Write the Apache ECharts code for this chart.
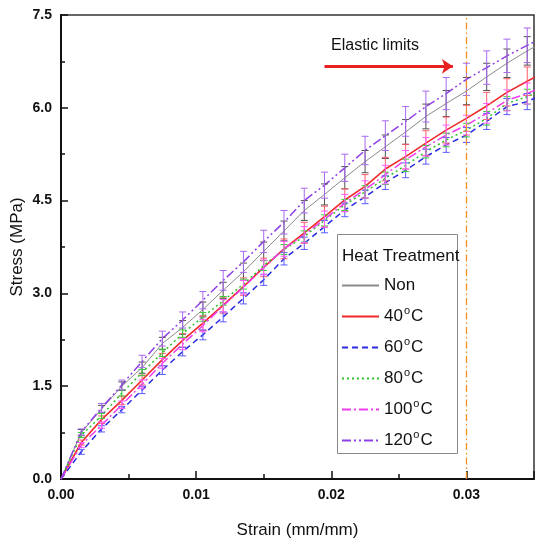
<!DOCTYPE html>
<html><head><meta charset="utf-8">
<script src="https://cdn.jsdelivr.net/npm/echarts@6/dist/echarts.min.js"></script>
<style>html,body{margin:0;padding:0;background:#fff}#c{width:535px;height:543px}</style>
</head><body><div id="c"></div>
<script>
// ---- data ----
const strain = [0,0.0015,0.003,0.0045,0.006,0.0075,0.009,0.0105,0.012,0.0135,0.015,0.0165,0.018,0.0195,0.021,0.0225,0.024,0.0255,0.027,0.0285,0.03,0.0315,0.033,0.0345,0.036];
const seriesNames = ['Non','40°C','60°C','80°C','100°C','120°C'];
const stressNon  = [0,0.75,1.13,1.50,1.80,2.19,2.45,2.74,3.05,3.35,3.68,4.01,4.34,4.60,4.87,5.13,5.37,5.61,5.86,6.07,6.27,6.50,6.72,6.92,7.10];
const stress40   = [0,0.59,0.96,1.27,1.60,1.93,2.24,2.52,2.81,3.11,3.42,3.72,3.98,4.24,4.51,4.73,5.01,5.21,5.43,5.64,5.83,6.03,6.25,6.43,6.60];
const stress60   = [0,0.44,0.81,1.12,1.44,1.76,2.06,2.33,2.62,2.92,3.22,3.56,3.81,4.08,4.35,4.56,4.79,4.99,5.21,5.40,5.56,5.78,6.02,6.10,6.25];
const stress80   = [0,0.71,1.02,1.39,1.72,2.04,2.35,2.62,2.88,3.15,3.45,3.71,3.92,4.18,4.43,4.64,4.86,5.07,5.29,5.48,5.64,5.83,6.07,6.18,6.32];
const stress100  = [0,0.55,0.87,1.20,1.53,1.87,2.18,2.48,2.80,3.10,3.42,3.72,3.95,4.20,4.46,4.68,4.92,5.16,5.37,5.56,5.72,5.91,6.12,6.23,6.38];
const stress120  = [0,0.76,1.15,1.52,1.90,2.27,2.57,2.89,3.21,3.51,3.84,4.15,4.50,4.75,5.03,5.31,5.55,5.78,6.02,6.23,6.46,6.65,6.84,7.01,7.17];
const errNon  = [0,0.05,0.06,0.07,0.09,0.10,0.11,0.12,0.13,0.14,0.15,0.16,0.16,0.17,0.18,0.18,0.19,0.20,0.20,0.21,0.22,0.22,0.23,0.23];
const err40   = [0,0.04,0.06,0.07,0.08,0.10,0.11,0.12,0.13,0.14,0.15,0.16,0.17,0.17,0.18,0.19,0.19,0.20,0.20,0.21,0.21,0.22,0.22,0.23];
const err60   = [0,0.04,0.05,0.05,0.06,0.07,0.07,0.08,0.08,0.09,0.09,0.10,0.10,0.10,0.11,0.11,0.11,0.12,0.12,0.12,0.12,0.13,0.13,0.13];
const err80   = [0,0.04,0.04,0.05,0.05,0.06,0.06,0.07,0.07,0.08,0.08,0.08,0.09,0.09,0.09,0.10,0.10,0.10,0.10,0.11,0.11,0.11,0.11,0.12];
const err100  = [0,0.04,0.05,0.06,0.07,0.08,0.09,0.10,0.10,0.11,0.12,0.12,0.13,0.13,0.14,0.14,0.15,0.15,0.15,0.16,0.16,0.16,0.17,0.17];
const err120  = [0,0.05,0.07,0.08,0.10,0.12,0.13,0.14,0.16,0.17,0.18,0.19,0.20,0.21,0.22,0.23,0.24,0.24,0.25,0.26,0.26,0.27,0.27,0.28];
const yTicks = [0,1.5,3.0,4.5,6.0,7.5];
const xTicks = [0,0.01,0.02,0.03];
const elasticLimit = 0.03;

// ---- styling ----
const font = '"Liberation Sans", Arial, sans-serif';
const values = [stressNon, stress40, stress60, stress80, stress100, stress120];
const errs = [errNon, err40, err60, err80, err100, err120];
const lineColors = ['#8a8a8a','#ee2a2a','#2a2ae0','#2cc22c','#ee3cee','#9040e8'];
const barColors  = ['#505050','#ff5a6a','#5a5aff','#3ccc3c','#ff5cff','#a868f0'];
const dashes = ['solid','solid',[6,4],[2,3],[9,3,2,3],[9,3,2,3,2,3]];
const widths = [1,1.6,1.5,1.5,1.5,1.5];

const chart = echarts.init(document.getElementById('c'), null, {renderer:'canvas'});
const series = [];
seriesNames.forEach((name, k) => {
  series.push({
    name, type:'line', symbol:'none', smooth:false, clip:true, z:3,
    data: strain.map((x,i)=>[x, values[k][i]]),
    lineStyle:{color:lineColors[k], width:widths[k], type:dashes[k]},
    itemStyle:{color:lineColors[k]}
  });
});
seriesNames.forEach((name, k) => {
  const col = barColors[k];
  series.push({
    type:'custom', clip:true, z:4, silent:true,
    data: errs[k].map((e,i)=>[strain[i], values[k][i]-e, values[k][i]+e]).filter((d,i)=>errs[k][i]>0),
    encode:{x:0, y:[1,2]},
    renderItem(params, api){
      const x=api.value(0), lo=api.value(1), hi=api.value(2);
      const a=api.coord([x,lo]), b=api.coord([x,hi]); const w=3.5;
      const st={stroke:col, lineWidth:1};
      return {type:'group', children:[
        {type:'line', shape:{x1:a[0],y1:a[1],x2:b[0],y2:b[1]}, style:st},
        {type:'line', shape:{x1:a[0]-w,y1:a[1],x2:a[0]+w,y2:a[1]}, style:st},
        {type:'line', shape:{x1:b[0]-w,y1:b[1],x2:b[0]+w,y2:b[1]}, style:st}
      ]};
    }
  });
});
// elastic limit line + arrow annotation
const orange = {color:'#f09020', width:1.3, type:[7,3,1.5,3], opacity:1};
series.push({
  type:'line', data:[], silent:true, z:2,
  markLine:{silent:true, symbol:'none', animation:false, label:{show:false},
    lineStyle:orange, emphasis:{disabled:true},
    data:[{xAxis:elasticLimit, lineStyle:orange}]}
});
series.push({
  type:'line', data:[], silent:true,
  markLine:{silent:true, symbol:['none','arrow'], symbolSize:[11,11], animation:false, label:{show:false},
    lineStyle:{color:'#e82020', width:3, type:'solid'},
    data:[[{coord:[0.0195,6.67]},{coord:[0.029,6.67]}]]}
});

const rich = {
  n:{fontSize:17, fontFamily:font, color:'#111', lineHeight:22, verticalAlign:'middle'},
  s:{fontSize:11, fontFamily:font, color:'#111', lineHeight:8, verticalAlign:'top', padding:[0,1,0,1]}
};

chart.setOption({
  animation:false,
  backgroundColor:'#fff',
  grid:{left:61, right:1, top:15, bottom:64, show:true, borderColor:'#333', borderWidth:1.5,
    containLabel:false, outerBoundsMode:'none'},
  xAxis:{type:'value', min:0, max:0.035, interval:0.01,
    axisLine:{lineStyle:{color:'#111', width:2}},
    axisTick:{inside:true, length:8, lineStyle:{color:'#111', width:1.5}},
    minorTick:{show:true, splitNumber:2, length:5, lineStyle:{color:'#111', width:1.5}},
    splitLine:{show:false},
    axisLabel:{margin:9, fontSize:14, fontWeight:'bold', fontFamily:font, color:'#111',
      formatter:v=>{const t=xTicks.find(q=>Math.abs(q-v)<1e-9); return t===undefined?'':t.toFixed(2);}},
    name:'Strain (mm/mm)', nameLocation:'middle', nameGap:43, nameMoveOverlap:false,
    nameTextStyle:{fontSize:17, fontFamily:font, color:'#111'}
  },
  yAxis:{type:'value', min:0, max:7.5, interval:1.5,
    axisLine:{show:true, lineStyle:{color:'#111', width:2}},
    axisTick:{show:true, inside:true, length:7, lineStyle:{color:'#111', width:1.5}},
    minorTick:{show:true, splitNumber:2, length:4, lineStyle:{color:'#111', width:1.5}},
    splitLine:{show:false},
    axisLabel:{margin:9, fontSize:14, fontWeight:'bold', fontFamily:font, color:'#111',
      formatter:v=>{const t=yTicks.find(q=>Math.abs(q-v)<1e-9); return t===undefined?'':t.toFixed(1);}},
    name:'Stress (MPa)', nameLocation:'middle', nameGap:35, nameMoveOverlap:false,
    nameTextStyle:{fontSize:17, fontFamily:font, color:'#111'}
  },
  legend:{show:true, z:30, orient:'vertical', left:341, top:277, padding:0, itemWidth:37, itemHeight:14, itemGap:11.5,
    data:seriesNames, selectedMode:false,
    itemStyle:{opacity:0},
    textStyle:{fontSize:17, fontFamily:font, color:'#111', rich},
    formatter:name=>name.indexOf('°')>=0 ? '{n|'+name.replace('°C','')+'}{s|o}{n|C}' : '{n|'+name+'}'
  },
  graphic:[
    {type:'rect', left:337, top:234, z:10, shape:{width:120, height:219}, style:{fill:'#fff', stroke:'#888', lineWidth:1}},
    {type:'text', left:342, top:248, z:11, style:{text:'Heat Treatment', fontSize:17, fontFamily:font, fill:'#111'}},
    {type:'text', left:331, top:38, z:11, style:{text:'Elastic limits', fontSize:16, fontFamily:font, fill:'#111'}}
  ],
  series
});
</script></body></html>
